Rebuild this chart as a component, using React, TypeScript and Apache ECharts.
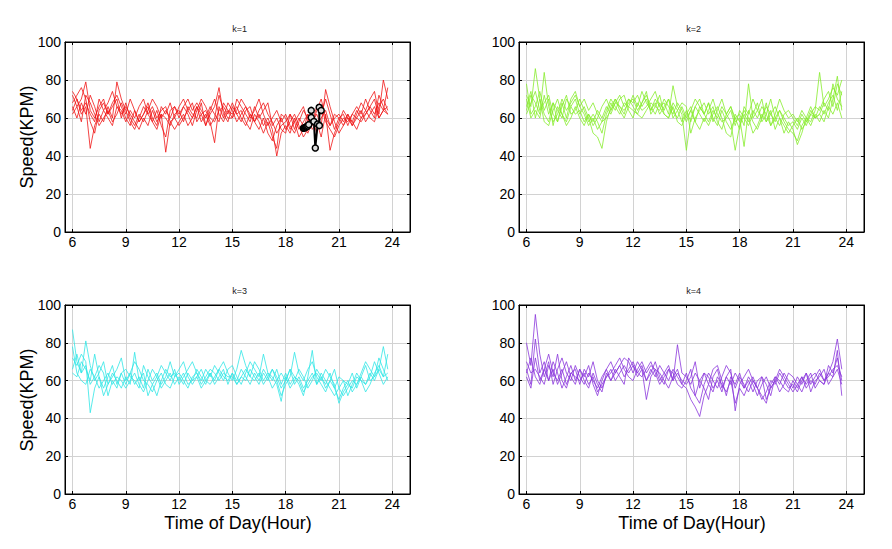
import React, { useEffect, useRef } from "react";
import * as echarts from "echarts";

// 15-minute sampling grid, 06:00 .. 23:45
const HOURS: number[] = Array.from({ length: 72 }, (_, i) => 6 + i * 0.25);
const X_TICKS = [6, 9, 12, 15, 18, 21, 24];
const PANEL_TITLES = ["k=1", "k=2", "k=3", "k=4"];
const PANEL_COLORS = ["#f01414", "#86ec2c", "#30e6e6", "#8a36dc"];

// k=1 (red)
const K1_LINES: number[][] = [
  [72,66,70,79,64,60,66,70,62,68,72,66, 60,56,64,58,62,66,58,54,62,60,56,62, 64,58,66,62,60,68,56,64,70,62,58,64, 62,66,60,56,62,58,54,60,52,48,56,60, 54,58,62,56,50,54,60,52,66,58,54,50, 56,60,58,62,60,64,58,62,66,60,64,66],
  [64,70,62,66,44,56,62,58,66,60,79,70, 64,58,54,60,66,62,58,64,56,50,64,66, 60,66,62,56,64,70,66,60,58,64,66,62, 68,62,58,64,66,58,62,56,60,54,40,52, 56,52,60,54,58,62,56,64,70,60,56,62, 60,56,62,58,64,60,62,66,62,68,64,62],
  [66,60,68,62,72,66,58,64,68,74,66,62, 66,62,58,54,60,56,64,58,62,42,58,54, 58,62,56,60,66,58,62,56,60,72,64,60, 60,64,70,66,62,58,64,68,62,58,52,56, 58,62,54,60,56,52,58,62,56,75,66,58, 52,56,60,58,54,60,64,60,58,66,70,64],
  [74,70,64,68,62,58,70,64,60,56,66,64, 58,64,60,66,70,62,66,60,64,66,58,60, 66,70,64,60,66,62,64,58,47,66,60,68, 64,58,62,66,60,64,70,62,56,60,64,58, 62,56,52,58,64,60,54,58,50,62,43,52, 58,64,60,56,62,68,64,70,74,62,80,70],
  [62,66,58,72,68,62,56,60,64,58,62,68, 62,70,64,58,62,68,60,56,66,62,68,60, 56,60,64,68,58,62,56,62,66,76,62,58, 66,62,64,58,54,62,58,52,58,50,44,62, 60,54,58,62,66,58,62,56,60,64,56,60, 62,58,62,56,60,58,62,66,70,60,64,76],
  [68,72,76,70,58,52,64,68,62,66,70,60, 68,60,56,62,58,64,70,66,60,64,60,66, 62,66,70,64,68,64,60,66,62,58,68,64, 60,70,66,62,58,66,60,64,68,56,60,54, 52,62,58,50,54,62,58,66,62,70,62,54, 60,62,56,62,66,62,70,64,60,72,66,62],
];

// k=2 (green)
const K2_LINES: number[][] = [
  [72,66,86,70,62,58,68,64,60,70,66,62, 64,58,62,56,60,66,70,64,68,72,66,70, 68,72,66,70,64,68,62,66,70,64,60,66, 60,64,58,66,62,68,60,56,64,58,54,60, 62,56,78,60,64,70,58,62,66,60,56,52, 56,60,54,58,62,66,64,70,74,66,78,72],
  [64,72,68,62,84,66,58,62,70,64,68,72, 66,62,56,60,54,58,64,70,66,62,68,66, 72,66,74,68,64,70,66,62,60,68,64,58, 64,58,66,70,62,58,64,60,66,62,58,43, 56,62,58,64,60,66,62,56,60,64,58,54, 52,48,56,60,58,64,84,66,70,76,72,80],
  [78,62,66,74,64,70,56,66,62,58,66,70, 62,66,60,52,50,44,58,66,70,64,60,66, 64,62,68,72,66,62,68,64,70,60,64,68, 66,52,60,64,68,62,66,58,54,62,66,58, 60,45,64,58,54,60,66,62,58,64,60,56, 58,54,60,56,62,60,66,62,68,72,64,74],
  [70,60,64,60,72,62,68,58,66,72,62,64, 70,64,58,62,58,52,62,68,64,70,72,64, 60,68,64,66,70,74,66,68,62,77,66,62, 43,60,66,62,58,64,70,62,58,60,64,56, 64,60,56,62,68,58,62,70,60,56,62,64, 60,56,62,58,64,60,62,68,64,78,70,66],
  [66,74,60,70,58,56,64,70,62,56,60,66, 60,56,62,58,64,60,66,62,68,66,62,70, 66,62,60,64,68,66,72,62,60,66,58,56, 62,66,58,54,60,56,62,66,60,52,50,62, 58,64,60,52,56,62,58,64,54,60,52,58, 54,46,52,60,56,62,58,64,60,70,82,64],
  [62,68,74,64,68,72,62,58,68,60,70,74, 66,70,64,68,62,58,60,64,70,66,64,68, 70,64,68,74,62,66,64,70,66,62,68,64, 58,64,70,66,62,68,58,64,70,62,66,60, 54,66,62,70,64,60,68,56,62,70,64,60, 62,58,64,60,66,60,62,58,66,62,68,60],
];

// k=3 (cyan)
const K3_LINES: number[][] = [
  [87,70,64,68,58,62,56,60,64,58,62,60, 56,60,64,58,54,60,66,62,56,60,64,58, 62,58,64,60,66,62,58,64,60,66,62,60, 64,60,66,62,58,64,60,66,62,56,60,64, 60,66,58,62,56,60,64,58,62,56,60,56, 50,56,60,54,58,62,58,64,60,66,62,64],
  [72,68,74,70,43,56,62,52,58,64,60,56, 62,58,75,60,64,52,58,62,68,64,60,66, 58,62,66,70,64,60,66,62,68,64,60,66, 68,62,58,64,70,66,62,74,64,60,66,58, 64,58,62,60,54,58,62,64,60,66,62,58, 48,54,58,56,62,60,54,58,64,68,62,74],
  [66,74,64,81,68,60,64,70,58,62,66,72, 60,64,58,62,56,66,60,64,58,62,70,62, 66,70,62,58,62,66,60,58,62,66,70,64, 60,66,76,68,62,60,64,58,62,66,60,52, 58,62,75,64,60,66,70,62,58,54,60,66, 56,52,56,60,58,64,70,66,62,72,66,60],
  [78,64,60,58,66,62,68,64,52,60,56,64, 58,64,70,66,60,58,54,60,64,58,56,62, 64,60,56,62,64,58,62,66,64,60,64,62, 62,58,62,66,62,70,66,60,64,62,58,49, 62,56,60,66,62,56,60,66,62,58,64,56, 62,60,52,58,64,60,58,62,70,64,58,62],
  [64,62,70,66,60,74,62,56,62,68,58,64, 66,62,60,56,68,62,58,52,60,66,62,64, 60,64,58,60,62,56,60,64,58,62,66,58, 64,58,62,60,66,62,58,64,60,66,62,56, 60,66,62,58,52,62,76,58,64,60,56,52, 56,60,58,64,56,62,68,60,62,66,78,66],
];

// k=4 (purple)
const K4_LINES: number[][] = [
  [80,68,95,74,62,70,58,66,72,64,60,68, 62,58,64,60,56,62,66,60,64,68,62,66, 70,64,68,60,66,62,68,64,60,66,62,58, 56,50,46,41,52,58,54,62,58,54,60,48, 56,52,58,62,56,50,54,60,58,64,60,56, 58,54,60,64,58,62,66,60,64,70,82,66],
  [66,58,82,64,70,60,66,58,64,70,62,58, 66,62,68,58,52,60,66,70,64,68,72,70, 64,70,66,50,62,66,60,64,68,60,79,64, 62,58,64,60,56,50,62,66,56,62,58,64, 60,56,62,58,52,58,62,56,60,66,62,58, 54,58,62,56,60,58,64,60,62,66,68,62],
  [62,56,72,60,66,74,64,60,66,58,64,62, 60,64,58,62,54,58,62,66,60,64,68,64, 68,64,62,66,70,64,58,62,66,60,64,60, 58,62,70,56,64,58,66,68,60,52,62,58, 64,56,60,54,60,62,58,52,62,58,64,60, 56,62,58,64,54,60,62,66,58,62,76,52],
  [70,64,66,62,58,68,62,74,60,56,64,66, 58,66,62,70,60,56,62,64,68,72,66,62, 60,66,70,64,68,66,64,60,56,62,66,58, 64,56,52,60,64,62,56,60,54,62,66,44, 58,62,66,60,56,52,48,58,62,60,56,54, 60,56,62,58,62,64,60,58,68,64,72,60],
  [64,72,62,58,66,60,70,64,56,62,68,60, 66,60,56,64,58,54,64,60,66,62,58,72, 68,62,66,60,64,70,62,58,66,64,58,56, 60,66,52,48,58,64,60,56,62,68,64,56, 62,58,54,60,56,62,50,56,60,54,58,64, 62,58,54,60,64,56,60,58,64,62,66,58],
];

// black highlighted trajectory in k=1
const HIGHLIGHT_HOURS = [19.0, 19.05, 19.1, 19.15, 19.2, 19.25, 19.3, 19.44, 19.44, 19.59, 19.67, 19.8, 19.9, 19.89, 20.0];
const HIGHLIGHT_SPEED = [54.6, 54.8, 55.0, 55.2, 55.5, 55.8, 56.5, 60.3, 64.0, 58.2, 44.2, 56.8, 56.0, 65.6, 64.0];

const PANELS = [K1_LINES, K2_LINES, K3_LINES, K4_LINES];
const GRIDS = [
  { left: 65, top: 42, width: 345, height: 190 },
  { left: 519, top: 42, width: 345, height: 190 },
  { left: 65, top: 305, width: 345, height: 189 },
  { left: 519, top: 305, width: 345, height: 189 },
];
const FONT = "'Liberation Sans', Arial, Helvetica, sans-serif";

export default function App() {
  const ref = useRef<HTMLDivElement>(null);
  useEffect(() => {
    if (!ref.current) return;
    const chart = echarts.init(ref.current, undefined, { renderer: "svg" });
    const xAxis: any[] = [];
    const yAxis: any[] = [];
    const series: any[] = [];
    const title: any[] = [];
    GRIDS.forEach((g, p) => {
      title.push({
        text: PANEL_TITLES[p],
        left: g.left + g.width / 2,
        top: p < 2 ? 22 : 284,
        textAlign: "center",
        padding: 2,
        textStyle: { fontSize: 9, fontWeight: "normal", color: "#222", fontFamily: FONT },
      });
      const tickStyle = { color: "#000", width: 1 };
      xAxis.push({
        gridIndex: p, type: "value", min: 5.58, max: 25, position: "bottom",
        axisLine: { show: true, onZero: false, lineStyle: tickStyle },
        axisTick: { show: true, inside: true, length: 3, customValues: X_TICKS, lineStyle: tickStyle },
        axisLabel: { customValues: X_TICKS, color: "#000", fontSize: 14, fontFamily: FONT, margin: 3 },
        splitLine: { show: true, lineStyle: { color: "#d2d2d2", width: 1 } },
      });
      xAxis.push({
        gridIndex: p, type: "value", min: 5.58, max: 25, position: "top",
        axisLine: { show: true, onZero: false, lineStyle: tickStyle },
        axisTick: { show: true, inside: true, length: 3, customValues: X_TICKS, lineStyle: tickStyle },
        axisLabel: { show: false, customValues: X_TICKS },
        splitLine: { show: false },
      });
      yAxis.push({
        gridIndex: p, type: "value", min: 0, max: 100, interval: 20, position: "left",
        axisLine: { show: true, onZero: false, lineStyle: tickStyle },
        axisTick: { show: true, inside: true, length: 3, lineStyle: tickStyle },
        axisLabel: { color: "#000", fontSize: 14, fontFamily: FONT, margin: 4 },
        splitLine: { show: true, lineStyle: { color: "#d2d2d2", width: 1 } },
      });
      yAxis.push({
        gridIndex: p, type: "value", min: 0, max: 100, interval: 20, position: "right",
        axisLine: { show: true, onZero: false, lineStyle: tickStyle },
        axisTick: { show: true, inside: true, length: 3, lineStyle: tickStyle },
        axisLabel: { show: false },
        splitLine: { show: false },
      });
      PANELS[p].forEach((vals) => {
        series.push({
          type: "line",
          xAxisIndex: 2 * p,
          yAxisIndex: 2 * p,
          data: HOURS.map((h, i) => [h, vals[i]]),
          symbol: "none",
          showSymbol: false,
          silent: true,
          lineStyle: { color: PANEL_COLORS[p], width: 0.8 },
          itemStyle: { color: PANEL_COLORS[p] },
          z: 2,
        });
      });
    });
    series.push({
      type: "line",
      xAxisIndex: 0,
      yAxisIndex: 0,
      data: HIGHLIGHT_HOURS.map((h, i) => [h, HIGHLIGHT_SPEED[i]]),
      symbol: "circle",
      symbolSize: 6,
      showSymbol: true,
      silent: true,
      lineStyle: { color: "#000", width: 2 },
      itemStyle: { color: "#dcdcdc", borderColor: "#000", borderWidth: 1.5 },
      z: 5,
    });
    const yLabel = (y: number) => ({
      type: "text", x: 27, y, rotation: Math.PI / 2, silent: true,
      style: { text: "Speed(KPM)", fontSize: 18, fontFamily: FONT, fill: "#000", textAlign: "center", textVerticalAlign: "middle" },
    });
    const xLabel = (x: number) => ({
      type: "text", x, y: 523, silent: true,
      style: { text: "Time of Day(Hour)", fontSize: 18, fontFamily: FONT, fill: "#000", textAlign: "center", textVerticalAlign: "middle" },
    });
    chart.setOption({
      animation: false,
      backgroundColor: "#ffffff",
      title,
      grid: GRIDS.map((g) => ({ ...g, show: true, borderColor: "#000", borderWidth: 1, backgroundColor: "#fff", containLabel: false })),
      xAxis,
      yAxis,
      series,
      graphic: [yLabel(137), yLabel(400), xLabel(238), xLabel(692)],
    });
    return () => chart.dispose();
  }, []);
  return <div ref={ref} style={{ position: "fixed", left: 0, top: 0, width: 892, height: 549, background: "#fff" }} />;
}
